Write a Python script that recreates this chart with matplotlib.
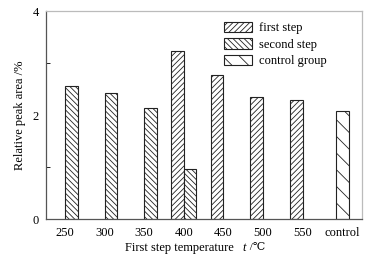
import numpy as np
import matplotlib
matplotlib.use("Agg")
import matplotlib.pyplot as plt
from matplotlib.patches import Patch
from matplotlib.ticker import MultipleLocator

# data
categories = ["250", "300", "350", "400", "450", "500", "550", "control"]
first_step = [np.nan, np.nan, np.nan, 3.24, 2.76, 2.34, 2.29, np.nan]
second_step = [2.56, 2.43, 2.13, 0.97, np.nan, np.nan, np.nan, np.nan]
control_group = [np.nan, np.nan, np.nan, np.nan, np.nan, np.nan, np.nan, 2.07]

plt.rcParams["font.family"] = ["Liberation Serif", "DejaVu Serif"]
plt.rcParams["hatch.linewidth"] = 0.6
plt.rcParams["hatch.color"] = "#333333"

fs = 9
fig = plt.figure(figsize=(3.74, 2.57), dpi=100)
ax = fig.add_axes([46 / 374, 1 - 219 / 257, 316 / 374, 208 / 257])

x = np.arange(len(categories))
w = 0.32
ec = "#222222"
ax.bar(x - w / 2, first_step, w, color="white", edgecolor=ec, hatch="//////", linewidth=0.8)
ax.bar(x + w / 2, second_step, w, color="white", edgecolor=ec, hatch="\\\\\\\\\\\\", linewidth=0.8)
ax.bar(x, control_group, w, color="white", edgecolor=ec, hatch="\\\\", linewidth=0.8)

ax.set_xlim(-0.48, 7.50)
ax.set_ylim(0, 4)
ax.set_xticks(x)
ax.set_xticklabels(categories)
ax.set_yticks([0, 2, 4])
ax.yaxis.set_minor_locator(MultipleLocator(1))
ax.tick_params(axis="x", length=0, pad=6, labelsize=fs)
ax.tick_params(axis="y", which="major", length=0, pad=5, labelsize=fs)
ax.tick_params(axis="y", which="minor", direction="in", length=3, width=0.6)

for s in ["left", "bottom"]:
    ax.spines[s].set_color("#555555")
    ax.spines[s].set_linewidth(0.9)
for s in ["top", "right"]:
    ax.spines[s].set_color("#bbbbbb")
    ax.spines[s].set_linewidth(0.9)

ax.set_ylabel("Relative peak area /%", fontsize=fs, labelpad=5)

# x label: plain part plus italic symbol and unit
fig.text(179 / 374, 1 - 248 / 257, "First step temperature", fontsize=fs,
         ha="center", va="center")
fig.text(242 / 374, 1 - 248 / 257, "t", fontsize=fs, style="italic",
         ha="left", va="center")
fig.text(247 / 374, 1 - 248 / 257, " /℃", fontsize=8, ha="left", va="center")

handles = [
    Patch(facecolor="white", edgecolor=ec, hatch="//////", linewidth=0.8, label="first step"),
    Patch(facecolor="white", edgecolor=ec, hatch="\\\\\\\\\\\\", linewidth=0.8, label="second step"),
    Patch(facecolor="white", edgecolor=ec, hatch="\\\\", linewidth=0.8, label="control group"),
]
ax.legend(handles=handles, loc="upper left", bbox_to_anchor=(0.562, 0.948), frameon=False,
          fontsize=fs, handlelength=2.3, handleheight=0.9, handletextpad=0.5,
          labelspacing=0.32, borderaxespad=0, borderpad=0)

fig.savefig("out.png", dpi=100)
